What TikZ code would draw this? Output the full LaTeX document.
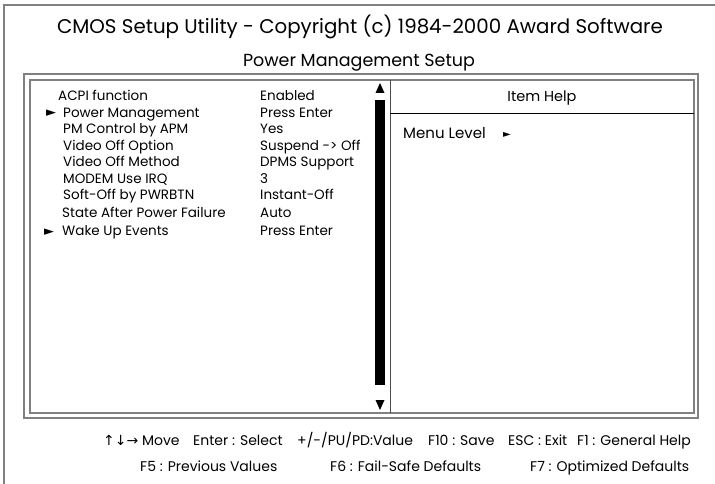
\documentclass[tikz,border=0pt]{standalone}
\usepackage{fontspec}
\setmainfont{Poppins}
\newfontfamily\symfont{DejaVu Sans}
\begin{document}
\begin{tikzpicture}[x=1pt,y=-1pt,
  frame/.style={draw=black!50,line width=1.6pt},
  thin/.style={draw=black!70,line width=0.9pt},
  item/.style={anchor=base west,inner sep=0pt,font=\fontsize{13.5}{14}\selectfont},
  arr/.style={anchor=base west,inner sep=0pt,font=\symfont\fontsize{13}{14}\selectfont},
  title/.style={anchor=base,inner sep=0pt,font=\fontsize{19.8}{22}\selectfont},
  foot/.style={anchor=base west,inner sep=0pt,font=\fontsize{14}{15}\selectfont},
  tri/.style={fill=black,draw=none}]
\useasboundingbox (0,0) rectangle (715,484);
\fill[white] (0,0) rectangle (715,484);
% outer frame (top and left visible)
\coordinate (otl) at (4,5);
\coordinate (otr) at (715,5);
\coordinate (obl) at (4,484);
\draw[frame] (otr) -- (otl) -- (obl);
% titles
\node[title] (t1) at (360,34) {CMOS Setup Utility - Copyright (c) 1984-2000 Award Software};
\node[title,font=\fontsize{17.5}{20}\selectfont] (t2) at (359,67) {Power Management Setup};
% double frame
\draw[frame] (24,74) rectangle (698,418);
\draw[frame,line width=1.2pt] (30,80) rectangle (694,413);
% divider
\coordinate (dtop) at (390,80);
\coordinate (dbot) at (390,413);
\draw[thin] (dtop) -- (dbot);
\coordinate (hl) at (390,113);
\coordinate (hr) at (694,113);
\draw[black,line width=0.9pt] (hl) -- (hr);
% scrollbar
\fill[tri] (380,83) -- (384.5,93) -- (375.5,93) -- cycle;
\fill[black] (375.3,100) rectangle (385.3,385);
\fill[tri] (380,410) -- (384.5,400) -- (375.5,400) -- cycle;
% menu items (baselines)
\node[item] (i1) at (58,101) {ACPI function};
\node[item] (i2) at (63,117.5) {Power Management};
\node[item] (i3) at (63,133.5) {PM Control by APM};
\node[item] (i4) at (63,150) {Video Off Option};
\node[item] (i5) at (63,166.5) {Video Off Method};
\node[item] (i6) at (63,183) {MODEM Use IRQ};
\node[item] (i7) at (63,199.5) {Soft-Off by PWRBTN};
\node[item] (i8) at (62,217) {State After Power Failure};
\node[item] (i9) at (62,235.5) {Wake Up Events};
\node[arr] (a2) at (46,117) {►};
\node[arr] (a9) at (44,235) {►};
% values
\node[item] (v1) at (260,101) {Enabled};
\node[item] (v2) at (260,117.5) {Press Enter};
\node[item] (v3) at (260,133.5) {Yes};
\node[item] (v4) at (260,150) {Suspend -> Off};
\node[item] (v5) at (260,166.5) {DPMS Support};
\node[item] (v6) at (260,183) {3};
\node[item] (v7) at (260,199.5) {Instant-Off};
\node[item] (v8) at (260,217) {Auto};
\node[item] (v9) at (260,235.5) {Press Enter};
% help panel
\node[title,font=\fontsize{14.5}{16}\selectfont] (help) at (542,102) {Item Help};
\node[item,font=\fontsize{15}{16}\selectfont] (ml) at (403,138.5) {Menu Level};
\node[arr,font=\symfont\fontsize{10}{11}\selectfont] (mla) at (503,137.5) {►};
% footer
\node[foot] (f1) at (103,445) {{\symfont ↑↓→} Move};
\node[foot] (f2) at (193,445) {Enter : Select};
\node[foot] (f3) at (297,445) {+/-/PU/PD:Value};
\node[foot] (f4) at (428,445) {F10 : Save};
\node[foot] (f5) at (508,445) {ESC : Exit};
\node[foot] (f6) at (577,445) {F1 : General Help};
\node[foot] (g1) at (140,471) {F5 : Previous Values};
\node[foot] (g2) at (330,471) {F6 : Fail-Safe Defaults};
\node[foot] (g3) at (530,471) {F7 : Optimized Defaults};
\end{tikzpicture}
\end{document}
